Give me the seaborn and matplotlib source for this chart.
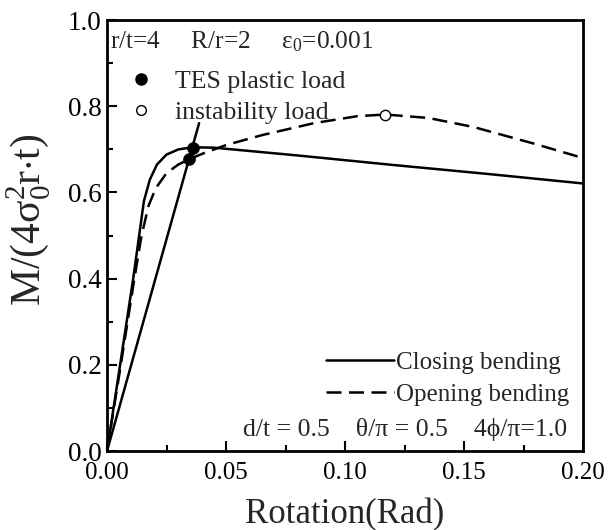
import matplotlib
matplotlib.use("Agg")
import matplotlib.pyplot as plt
import seaborn as sns
from matplotlib.lines import Line2D
from matplotlib.ticker import MultipleLocator

# closing bending (solid curve)
closing_x = [0.0, 0.0055, 0.011, 0.0135, 0.0155, 0.018, 0.021, 0.025, 0.030, 0.036,
             0.045, 0.080, 0.120, 0.160, 0.200]
closing_y = [0.0, 0.20, 0.40, 0.50, 0.58, 0.63, 0.665, 0.688, 0.700, 0.705,
             0.704, 0.686, 0.664, 0.643, 0.621]

# opening bending (dashed curve)
opening_x = [0.0, 0.0058, 0.0115, 0.0145, 0.0175, 0.0205, 0.025, 0.030, 0.0345, 0.041,
             0.050, 0.065, 0.087, 0.105, 0.117, 0.135, 0.154, 0.179, 0.200]
opening_y = [0.0, 0.20, 0.40, 0.50, 0.57, 0.61, 0.645, 0.665, 0.677, 0.692,
             0.710, 0.733, 0.761, 0.777, 0.781, 0.773, 0.752, 0.714, 0.680]

# twice-elastic-slope construction line
tes_x = [0.0, 0.0387]
tes_y = [0.0, 0.761]

# TES plastic loads and instability load
tes_pts_x = [0.0363, 0.0345]
tes_pts_y = [0.704, 0.677]
inst_x = [0.117]
inst_y = [0.781]

x_ticks = [0.00, 0.05, 0.10, 0.15, 0.20]
y_ticks = [0.0, 0.2, 0.4, 0.6, 0.8, 1.0]

sns.set_style("ticks")
plt.rcParams['font.family'] = ['Liberation Serif', 'DejaVu Serif']
plt.rcParams['mathtext.fontset'] = 'custom'
plt.rcParams['mathtext.rm'] = 'Liberation Serif'
plt.rcParams['mathtext.it'] = 'Liberation Serif:italic'

fig = plt.figure(figsize=(6.15, 5.3), dpi=100)
ax = fig.add_axes([0.174, 0.149, 0.774, 0.813])

lw = 1.8
sns.lineplot(x=closing_x, y=closing_y, sort=False, estimator=None, color='black', lw=lw, ax=ax)
sns.lineplot(x=opening_x, y=opening_y, sort=False, estimator=None, color='black', lw=lw,
             linestyle=(0, (6, 3)), ax=ax)
sns.lineplot(x=tes_x, y=tes_y, sort=False, estimator=None, color='black', lw=lw, ax=ax)
sns.scatterplot(x=tes_pts_x, y=tes_pts_y, color='black', s=70, edgecolor='black', zorder=5, ax=ax)
sns.scatterplot(x=inst_x, y=inst_y, color='white', s=55, edgecolor='black', linewidth=1.0,
                zorder=5, ax=ax)

ax.set_xlim(0, 0.2)
ax.set_ylim(0, 1.0)
ax.set_xticks(x_ticks)
ax.set_yticks(y_ticks)
ax.set_xticklabels([f"{v:.2f}" for v in x_ticks])
ax.set_yticklabels([f"{v:.1f}" for v in y_ticks])
ax.xaxis.set_minor_locator(MultipleLocator(0.025))
ax.yaxis.set_minor_locator(MultipleLocator(0.1))
ax.tick_params(which='both', direction='in', width=1.5, colors='black')
ax.tick_params(which='major', length=7)
ax.tick_params(which='minor', length=4)
ax.tick_params(axis='x', labelsize=18, pad=8)
ax.tick_params(axis='y', labelsize=19.5, pad=4)
for sp in ax.spines.values():
    sp.set_linewidth(2.0)
    sp.set_color('black')
    sp.set_visible(True)

ax.set_xlabel("Rotation(Rad)", fontsize=25, labelpad=10)
ax.set_ylabel(r"M/(4$\mathregular{\sigma_0^2}$r$\cdot$t)", fontsize=30)
ax.yaxis.set_label_coords(-0.115, 0.536)

ax.text(0.0013, 0.949, r"r/t=4     R/r=2     $\mathregular{\epsilon_0}$=0.001",
        fontsize=18.2, va='center', ha='left')
ax.text(0.1933, 0.049, "d/t = 0.5    θ/π = 0.5    4ϕ/π=1.0",
        fontsize=18.5, va='center', ha='right')

pt_handles = [
    Line2D([], [], marker='o', ls='none', color='black', markersize=8),
    Line2D([], [], marker='o', ls='none', markerfacecolor='white', markeredgecolor='black',
           markersize=7, markeredgewidth=1.0),
]
leg1 = ax.legend(pt_handles, ["TES plastic load", "instability load"], loc='upper left',
                 bbox_to_anchor=(0.045, 0.884), frameon=False, fontsize=18.5,
                 handlelength=1.0, handletextpad=0.8, labelspacing=0.3, borderaxespad=0,
                 borderpad=0)
ax.add_artist(leg1)

ln_handles = [
    Line2D([], [], color='black', lw=lw),
    Line2D([], [], color='black', lw=lw, linestyle=(0, (6, 3))),
]
ax.legend(ln_handles, ["Closing bending", "Opening bending"], loc='lower right',
          bbox_to_anchor=(0.972, 0.104), frameon=False, fontsize=18,
          handlelength=2.7, handletextpad=0.1, labelspacing=0.4, borderaxespad=0,
          borderpad=0)

fig.savefig("out.png", dpi=100)
